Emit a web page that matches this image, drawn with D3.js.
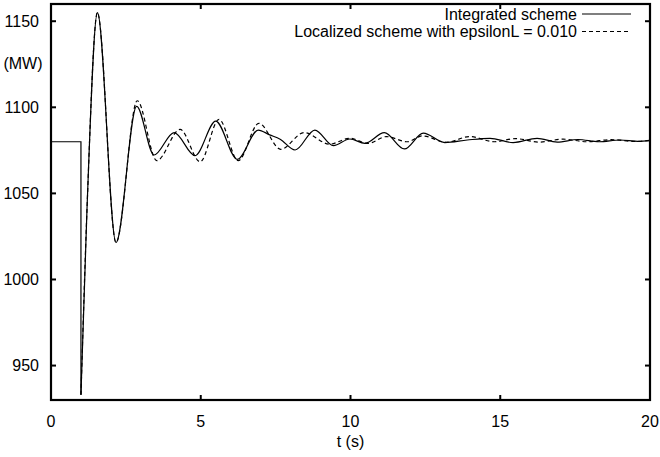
<!DOCTYPE html>
<html>
<head>
<meta charset="utf-8">
<script src="https://cdn.jsdelivr.net/npm/d3@7/dist/d3.min.js"></script>
<style>
  html, body { margin: 0; padding: 0; background: #fff; }
  text { font-family: "Liberation Sans", Arial, Helvetica, sans-serif; font-size: 16px; fill: #000; }
</style>
</head>
<body>
<svg id="chart" width="660" height="457"></svg>
<script>
// Axis ticks
const xTicks = [0, 5, 10, 15, 20];
const yTicks = [950, 1000, 1050, 1100, 1150];

// Pre-fault steady state and the fault instant (both schemes identical here)
const preFaultT = [0, 1.0, 1.0];
const preFaultP = [1080, 1080, 933];

// Post-fault response, integrated scheme (MW)
const integratedT = [1.0, 1.2, 1.55, 2.17, 2.86, 3.44, 4.11, 4.81, 5.5, 6.22, 6.92, 7.3, 7.65, 8.15, 8.81, 9.43, 9.98, 10.48, 11.13, 11.8, 12.43, 13.15, 13.9, 14.66, 15.43, 16.23, 16.9, 17.6, 18.3, 19.0, 19.6, 20.0];
const integratedP = [933, 1040, 1155, 1021.5, 1100.5, 1072.3, 1085.3, 1071.9, 1092, 1069.8, 1086.8, 1084, 1081.5, 1075.2, 1086.8, 1077.7, 1081.6, 1079.1, 1085.3, 1075.8, 1085.0, 1079.5, 1081.0, 1082, 1079.5, 1082, 1079.8, 1081.3, 1080, 1081, 1080.2, 1080.6];

// Post-fault response, localized scheme with epsilonL = 0.010 (MW)
const localizedT = [1.0, 1.2, 1.55, 2.17, 2.88, 3.53, 4.31, 4.98, 5.61, 6.25, 6.94, 7.67, 8.45, 9.3, 9.98, 10.58, 11.2, 11.9, 12.4, 13.2, 13.98, 14.8, 15.5, 16.3, 17.1, 17.9, 18.7, 19.5, 20.0];
const localizedP = [933, 1040, 1155, 1021.5, 1103.8, 1069, 1087.2, 1068.4, 1093, 1069, 1090.7, 1075.6, 1085.3, 1078.6, 1082, 1079, 1083, 1080, 1083.4, 1079.7, 1083, 1080, 1081.8, 1079.8, 1081.5, 1080, 1081.2, 1080.2, 1080.8];

const legendLabels = ["Integrated scheme", "Localized scheme with epsilonL = 0.010"];

const svg = d3.select("#chart");
const plot = { left: 51, right: 650, top: 4, bottom: 400 };

const x = d3.scaleLinear().domain([0, 20]).range([plot.left, plot.right]);
const y = d3.scaleLinear().domain([930, 1160]).range([plot.bottom, plot.top]);

svg.append("clipPath").attr("id", "clip")
  .append("rect")
  .attr("x", plot.left).attr("y", plot.top)
  .attr("width", plot.right - plot.left).attr("height", plot.bottom - plot.top);

const zip = (ts, ps) => ts.map((t, i) => [t, ps[i]]);
const linear = d3.line().x(d => x(d[0])).y(d => y(d[1]));
const smooth = d3.line().x(d => x(d[0])).y(d => y(d[1])).curve(d3.curveMonotoneX);

const curves = svg.append("g").attr("clip-path", "url(#clip)")
  .attr("fill", "none").attr("stroke", "#000").attr("stroke-width", 1.2);

curves.append("path").attr("d", linear(zip(preFaultT, preFaultP)));
curves.append("path").attr("d", smooth(zip(localizedT, localizedP)))
  .attr("stroke-dasharray", "4,3");
curves.append("path").attr("d", smooth(zip(integratedT, integratedP)));

// Frame with mirrored inward ticks
const axes = svg.append("g").attr("stroke", "#000");
const tickLen = 5;
yTicks.forEach(v => {
  axes.append("line").attr("x1", plot.left).attr("x2", plot.left + tickLen)
    .attr("y1", y(v)).attr("y2", y(v)).attr("stroke-width", 2);
  axes.append("line").attr("x1", plot.right).attr("x2", plot.right - tickLen)
    .attr("y1", y(v)).attr("y2", y(v)).attr("stroke-width", 2);
});
xTicks.forEach(v => {
  axes.append("line").attr("x1", x(v)).attr("x2", x(v))
    .attr("y1", plot.bottom).attr("y2", plot.bottom - tickLen).attr("stroke-width", 2);
  axes.append("line").attr("x1", x(v)).attr("x2", x(v))
    .attr("y1", plot.top).attr("y2", plot.top + tickLen).attr("stroke-width", 2);
});
axes.append("rect")
  .attr("x", plot.left).attr("y", plot.top)
  .attr("width", plot.right - plot.left).attr("height", plot.bottom - plot.top)
  .attr("fill", "none").attr("stroke-width", 2.2);

// Tick labels
svg.append("g").selectAll("text").data(yTicks).join("text")
  .attr("x", plot.left - 12).attr("y", d => y(d)).attr("dy", "0.35em")
  .attr("text-anchor", "end").text(d => d);
svg.append("g").selectAll("text").data(xTicks).join("text")
  .attr("x", d => x(d)).attr("y", 427)
  .attr("text-anchor", "middle").text(d => d);

// Axis titles
svg.append("text").attr("x", 23).attr("y", 69).attr("text-anchor", "middle").text("(MW)");
svg.append("text").attr("x", x(10)).attr("y", 447).attr("text-anchor", "middle").text("t (s)");

// Legend
const legend = svg.append("g");
legendLabels.forEach((label, i) => {
  const cy = 14 + i * 17.5;
  legend.append("text").attr("x", 577).attr("y", cy).attr("dy", "0.35em")
    .attr("text-anchor", "end").text(label);
  legend.append("line").attr("x1", 582).attr("x2", 631)
    .attr("y1", cy).attr("y2", cy)
    .attr("stroke", "#000").attr("stroke-width", 1.2)
    .attr("stroke-dasharray", i === 1 ? "4,3" : null);
});
</script>
</body>
</html>
